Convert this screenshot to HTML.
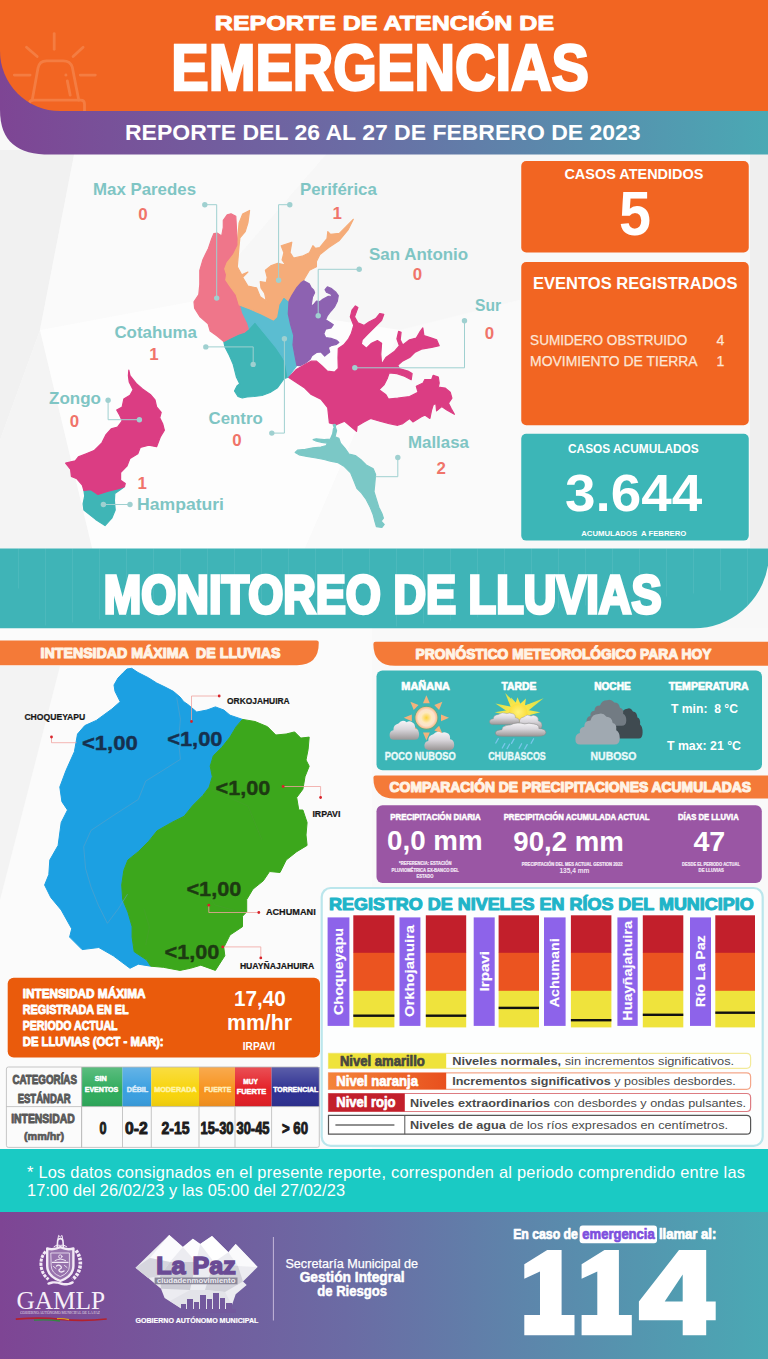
<!DOCTYPE html>
<html lang="es">
<head>
<meta charset="utf-8">
<title>Reporte de Atención de Emergencias</title>
<style>
html,body{margin:0;padding:0;background:#f8f8f8;}
body{width:768px;height:1359px;overflow:hidden;font-family:"Liberation Sans",sans-serif;}
svg text{white-space:pre;}
</style>
</head>
<body>
<svg width="768" height="1359" viewBox="0 0 768 1359" style="display:block">
<defs>
<linearGradient id="gpt" x1="0" y1="0" x2="1" y2="0">
<stop offset="0" stop-color="#7e4594"/><stop offset="0.45" stop-color="#6b6ba4"/><stop offset="1" stop-color="#4aa9b4"/></linearGradient>
<clipPath id="hclip"><path d="M0 0 L768 0 L768 111 L60 111 A60 60 0 0 1 0 51 Z"/></clipPath>
<linearGradient id="gsh" x1="0" y1="0" x2="0" y2="1"><stop offset="0" stop-color="#fff" stop-opacity="0.22"/><stop offset="0.6" stop-color="#fff" stop-opacity="0"/><stop offset="1" stop-color="#000" stop-opacity="0.06"/></linearGradient>
<linearGradient id="gcl" x1="0" y1="0" x2="0" y2="1">
<stop offset="0" stop-color="#f6f4f7"/><stop offset="0.45" stop-color="#d9d6db"/><stop offset="1" stop-color="#9a9696"/></linearGradient>
<radialGradient id="gsun" cx="0.5" cy="0.5" r="0.5">
<stop offset="0" stop-color="#fbd23a"/><stop offset="0.45" stop-color="#fde9c0"/><stop offset="0.7" stop-color="#fbe3cc"/><stop offset="1" stop-color="#f7b27a"/></radialGradient>
<radialGradient id="gsun2" cx="0.5" cy="0.45" r="0.6">
<stop offset="0" stop-color="#fff27a"/><stop offset="1" stop-color="#fbd92c"/></radialGradient>
<radialGradient id="gray" gradientUnits="userSpaceOnUse" cx="518.2" cy="713" r="28">
<stop offset="0.3" stop-color="#fbe64a"/><stop offset="1" stop-color="#cfe24f"/></radialGradient>
<linearGradient id="gor" x1="0" y1="0" x2="1" y2="0"><stop offset="0" stop-color="#f4843a"/><stop offset="1" stop-color="#e8501e"/></linearGradient>
</defs>
<rect x="0.00" y="0.00" width="768.00" height="1359.00" rx="0" fill="#f8f8f8" />
<polygon points="0.0,150.0 75.0,150.0 40.0,330.0 0.0,440.0" fill="#f1f1f1" />
<polygon points="0.0,440.0 40.0,330.0 95.0,560.0 0.0,560.0" fill="#f4f4f4" />
<polygon points="75.0,150.0 330.0,150.0 200.0,300.0 40.0,330.0" fill="#fafafa" />
<polygon points="330.0,150.0 520.0,150.0 520.0,300.0 400.0,330.0 200.0,300.0" fill="#f7f7f7" />
<polygon points="40.0,330.0 200.0,300.0 400.0,330.0 300.0,560.0 95.0,560.0" fill="#fdfdfd" />
<polygon points="400.0,330.0 520.0,300.0 520.0,560.0 300.0,560.0" fill="#fafafa" />
<polygon points="750.0,154.0 768.0,154.0 768.0,548.0 750.0,548.0" fill="#efefef" />
<polygon points="0.0,628.0 768.0,628.0 768.0,1149.0 0.0,1149.0" fill="#f9f9f9" />
<polygon points="0.0,628.0 372.0,628.0 372.0,1149.0 0.0,1149.0" fill="#fbfbfb" />
<polygon points="0.0,666.0 60.0,666.0 0.0,900.0" fill="#f3f3f3" />
<path d="M0 40 L768 40 L768 154.6 L50 154.6 C18 154.6 0 142 0 110 Z" fill="url(#gpt)"/>
<path id="hdr" d="M0 0 L768 0 L768 111 L60 111 A60 60 0 0 1 0 51 Z" fill="#f26522"/>
<g clip-path="url(#hclip)"><g fill="none" stroke="#f47d42" stroke-width="2.8" stroke-linecap="round" stroke-linejoin="round"><path d="M32.2 100.2 L38 68 Q39.4 60.8 46.5 60.8 L63 60.8 Q70.4 60.8 72.3 67.2 L78.8 100.2"/><path d="M29.4 114 L29.4 104 Q29.4 100.2 33.2 100.2 L80.7 100.2 Q84.5 100.2 84.5 104 L84.5 114"/><path d="M67.3 80.9 L70.2 95.2"/><path d="M65.9 75 L65.9 75.2"/><path d="M54.2 33.6 L54.2 49.3"/><path d="M26.5 47.2 L37.2 56.5"/><path d="M83.1 47.2 L73.1 56.5"/><path d="M14.3 75.1 L30.1 75.1"/><path d="M80.2 75.1 L95.3 75.1"/></g></g>
<text x="214.85" y="29.85" font-family="Liberation Sans, sans-serif" font-size="20.06" font-weight="bold" fill="#fff" stroke="#fff" stroke-width="0.9" stroke-linejoin="round" stroke-miterlimit="2.5" textLength="339.30" lengthAdjust="spacingAndGlyphs" >REPORTE DE ATENCIÓN DE</text>
<text x="171.30" y="90.00" font-family="Liberation Sans, sans-serif" font-size="65.26" font-weight="bold" fill="#fff" stroke="#fff" stroke-width="2.6" stroke-linejoin="miter" stroke-miterlimit="2.5" textLength="417.60" lengthAdjust="spacingAndGlyphs" >EMERGENCIAS</text>
<text x="125.00" y="139.70" font-family="Liberation Sans, sans-serif" font-size="21.37" font-weight="bold" fill="#fff" textLength="515.60" lengthAdjust="spacingAndGlyphs" >REPORTE DEL 26 AL 27 DE FEBRERO DE 2023</text>
<polygon points="223.8,341.5 230.0,338.3 238.3,334.2 244.6,332.1 248.2,329.0 255.0,321.7 262.5,330.9 270.3,340.3 276.6,348.1 282.8,357.5 285.3,362.0 288.0,377.3 284.0,378.6 277.5,387.7 270.0,392.5 262.0,395.5 254.0,396.5 247.0,397.0 242.3,398.0 238.0,396.5 234.5,391.0 237.0,386.0 239.7,383.8 236.5,377.3 233.2,364.3 229.3,355.2 225.0,347.0" fill="#3fb5b6" stroke="#3fb5b6" stroke-width="1.2" stroke-linejoin="round"/>
<polygon points="239.4,305.0 250.0,309.0 261.0,313.8 273.4,320.0 276.6,316.9 278.9,304.4 283.6,296.6 289.0,301.2 288.3,313.8 290.6,324.7 293.8,335.6 293.0,345.0 295.3,357.5 296.9,365.3 293.0,370.5 288.0,377.3 285.3,362.0 282.8,357.5 276.6,348.1 270.3,340.3 262.5,330.9 255.0,321.7 248.2,329.0 246.7,323.8 241.5,313.3" fill="#5bbdd1" stroke="#5bbdd1" stroke-width="1.2" stroke-linejoin="round"/>
<polygon points="227.2,214.8 231.0,213.8 235.8,216.4 236.6,231.2 238.1,245.3 233.4,254.7 227.2,262.5 224.8,268.8 226.6,274.7 225.8,280.0 230.0,286.2 236.2,294.6 239.4,305.0 241.5,313.3 246.7,323.8 248.2,329.0 244.6,332.1 238.3,334.2 230.0,338.3 223.8,341.5 217.5,336.2 210.2,331.0 208.1,323.8 199.8,316.5 194.6,308.1 194.0,301.9 198.8,294.6 199.8,284.4 199.8,270.3 203.0,259.4 208.4,248.4 211.6,239.0 213.9,233.6 217.5,233.2 221.7,235.9 223.3,227.3 223.3,220.3" fill="#ef768a" stroke="#ef768a" stroke-width="1.2" stroke-linejoin="round"/>
<polygon points="249.6,210.5 247.9,222.9 245.2,231.6 239.9,237.8 239.1,245.7 238.2,256.2 237.3,266.8 241.7,274.7 247.9,272.1 242.6,277.3 247.9,286.1 256.6,287.9 260.2,296.7 266.3,301.1 264.6,293.2 261.0,287.9 260.2,281.7 266.3,282.6 267.2,277.3 265.4,270.3 270.7,265.9 277.7,263.3 285.6,265.0 282.1,259.8 283.9,252.7 281.2,245.7 291.8,242.2 290.0,252.7 293.6,258.0 302.3,256.2 309.4,252.7 312.9,245.7 315.5,248.3 319.9,247.5 327.0,238.7 327.8,231.6 330.5,234.3 339.3,233.4 346.3,226.4 353.3,219.3 348.0,229.9 339.3,240.4 328.7,247.5 319.9,254.5 316.4,261.5 316.4,266.8 309.4,270.3 304.1,279.1 303.7,280.9 301.0,282.8 296.4,288.2 291.9,295.5 289.0,301.2 283.6,296.6 278.9,304.4 276.6,316.9 273.4,320.0 261.0,313.8 250.0,309.0 239.4,305.0 236.2,294.6 230.0,286.2 225.8,280.0 226.6,274.7 224.8,268.8 227.2,262.5 233.4,254.7 238.1,245.3 238.2,233.4 239.1,222.9 242.6,214.1" fill="#f5ac79" stroke="#f5ac79" stroke-width="1.2" stroke-linejoin="round"/>
<polygon points="303.7,280.9 309.2,283.7 311.0,287.3 313.7,290.1 314.6,292.8 312.4,297.3 311.0,306.5 313.7,304.6 316.5,301.0 320.1,301.5 322.8,299.2 328.3,296.4 332.0,296.0 331.0,294.2 326.5,292.3 325.1,289.6 327.4,286.9 331.0,288.2 335.6,291.9 338.3,295.5 337.4,301.0 334.7,306.5 331.0,311.0 327.4,315.6 325.6,319.7 329.2,322.0 333.3,324.7 331.0,327.9 325.6,329.2 323.8,333.8 325.6,337.5 331.0,338.4 336.5,340.2 338.8,342.5 336.5,344.3 331.0,345.7 328.3,347.5 329.7,352.0 327.4,353.9 324.7,356.1 321.0,352.0 316.5,352.5 311.9,355.7 310.1,359.3 305.5,363.0 300.1,365.7 296.9,365.3 295.3,357.5 293.0,345.0 293.8,335.6 290.6,324.7 288.3,313.8 289.0,301.2 291.9,295.5 296.4,288.2 301.0,282.8" fill="#8d62b1" stroke="#8d62b1" stroke-width="1.2" stroke-linejoin="round"/>
<polygon points="288.8,377.5 296.4,369.4 305.0,364.5 311.0,361.2 316.5,361.2 322.0,366.0 327.4,371.2 334.7,372.0 338.3,368.5 338.0,358.0 338.3,348.4 343.8,344.8 348.6,338.9 351.2,333.9 353.7,325.4 350.3,316.9 352.0,310.2 355.4,305.9 357.9,307.6 354.5,316.9 357.9,322.8 363.9,325.4 368.9,322.0 375.7,318.6 379.9,313.5 383.8,314.4 381.6,320.3 374.0,327.9 367.2,334.7 362.2,339.8 361.3,344.0 366.4,348.2 371.5,343.2 377.4,340.6 381.6,343.2 380.8,354.2 381.6,364.3 385.9,357.5 394.3,351.6 399.4,345.7 396.9,338.9 398.6,331.3 401.1,332.2 400.2,339.8 402.8,344.9 409.6,339.8 416.3,338.1 419.7,332.2 422.8,327.9 423.9,335.5 431.6,338.1 436.6,339.8 439.2,345.7 431.6,347.4 421.4,349.1 414.6,352.5 409.6,357.5 402.8,360.9 397.7,365.2 399.4,368.6 407.9,371.1 412.1,373.6 411.2,379.6 404.5,376.2 396.9,373.6 389.2,372.8 387.5,377.9 384.2,384.6 379.1,389.7 385.9,394.8 388.4,399.0 397.7,398.2 409.6,396.5 418.0,392.2 416.3,386.3 423.1,383.0 424.8,379.6 431.6,379.6 433.2,375.3 438.3,377.0 439.2,383.0 438.3,387.2 445.1,388.0 450.2,392.2 451.9,398.2 448.5,403.2 451.0,408.3 454.4,414.3 446.8,410.0 441.7,406.6 436.6,410.9 435.8,403.2 433.2,404.9 431.6,410.0 429.9,418.5 424.8,415.1 421.4,416.8 412.9,421.9 409.6,418.5 402.8,423.6 397.7,425.3 389.2,423.6 379.1,421.0 370.6,418.5 363.9,421.9 357.1,426.1 356.5,431.4 344.6,421.2 336.2,424.6 329.4,422.9 327.7,407.7 320.9,399.2 310.8,394.2 304.0,387.4" fill="#db3d83" stroke="#db3d83" stroke-width="1.2" stroke-linejoin="round"/>
<polygon points="335.0,425.9 336.6,430.6 335.0,436.9 338.9,438.4 340.5,443.1 345.2,448.6 349.0,454.0 355.3,455.6 361.6,460.3 366.2,465.0 373.3,468.9 375.6,474.4 374.8,483.8 374.0,491.6 376.4,499.4 378.8,507.2 381.9,513.4 383.4,518.1 381.1,521.2 384.2,524.4 381.9,527.5 376.4,526.7 374.8,521.2 373.3,515.0 370.2,507.2 366.2,499.4 361.6,493.1 356.9,488.4 353.8,480.6 350.6,472.8 344.4,466.6 338.1,462.7 330.3,461.1 324.1,459.5 316.2,458.0 306.9,456.4 299.1,454.8 295.2,452.5 297.5,450.2 305.3,449.4 313.1,447.8 320.9,447.0 326.4,445.5 327.2,443.1 321.7,442.3 315.5,440.8 313.1,439.7 316.2,438.8 324.1,439.7 330.3,439.2 332.7,433.8 333.4,429.1" fill="#7bc8c6" stroke="#7bc8c6" stroke-width="1.2" stroke-linejoin="round"/>
<circle cx="334.6" cy="425.6" r="1.8" fill="#7bc8c6"/>
<polygon points="83.9,490.5 90.9,489.7 98.0,494.4 108.1,491.2 117.5,488.9 123.8,487.3 114.8,493.5 114.4,500.6 115.2,510.0 112.0,517.8 105.0,525.6 95.6,519.4 83.9,510.0 83.1,503.8 84.7,495.9" fill="#3fb5b6" stroke="#3fb5b6" stroke-width="1.2" stroke-linejoin="round"/>
<polygon points="128.8,370.2 130.0,375.6 136.2,383.4 142.5,388.9 150.3,394.4 155.0,399.8 156.6,406.9 161.2,412.3 159.7,417.8 162.8,424.1 164.4,430.3 160.5,436.6 156.6,446.7 148.8,445.2 140.2,447.5 137.8,453.8 130.0,458.4 126.9,466.2 120.6,472.5 120.6,480.3 125.3,483.4 124.5,486.6 117.5,488.9 108.1,491.2 98.0,494.4 90.9,489.7 83.9,490.5 82.3,485.0 76.9,478.8 71.4,476.4 70.6,469.4 65.6,463.1 75.3,460.8 78.4,456.9 86.2,453.8 94.1,450.6 101.9,442.8 105.8,435.0 111.2,428.8 117.5,427.2 122.2,420.9 119.8,415.5 116.7,410.0 122.2,406.9 123.8,399.1 130.0,395.2 133.1,389.7 129.2,381.9 128.4,375.6" fill="#db3d83" stroke="#db3d83" stroke-width="1.2" stroke-linejoin="round"/>
<path d="M204.8 204.7 L216.7 204.7 L216.7 298.1" fill="none" stroke="#9fd0d0" stroke-width="1"/>
<circle cx="204.8" cy="204.7" r="2.7" fill="#9fd0d0"/>
<circle cx="216.7" cy="298.1" r="2.7" fill="#9fd0d0"/>
<path d="M289.8 204.7 L278.6 204.7 L278.6 280.2" fill="none" stroke="#9fd0d0" stroke-width="1"/>
<circle cx="289.8" cy="204.7" r="2.7" fill="#9fd0d0"/>
<circle cx="278.6" cy="280.2" r="2.7" fill="#9fd0d0"/>
<path d="M359.2 269.3 L318.2 269.3 L318.2 315.7" fill="none" stroke="#9fd0d0" stroke-width="1"/>
<circle cx="359.2" cy="269.3" r="2.7" fill="#9fd0d0"/>
<circle cx="318.2" cy="315.7" r="2.7" fill="#9fd0d0"/>
<path d="M464.5 320.8 L464.5 367.8 L354.8 367.8" fill="none" stroke="#9fd0d0" stroke-width="1"/>
<circle cx="464.5" cy="320.8" r="2.7" fill="#9fd0d0"/>
<circle cx="354.8" cy="367.8" r="2.7" fill="#9fd0d0"/>
<path d="M205.8 346.9 L253.2 346.9 L253.2 364.4" fill="none" stroke="#9fd0d0" stroke-width="1"/>
<circle cx="205.8" cy="346.9" r="2.7" fill="#9fd0d0"/>
<circle cx="253.2" cy="364.4" r="2.7" fill="#9fd0d0"/>
<path d="M271.8 433.1 L284.4 433.1 L284.4 338.8" fill="none" stroke="#9fd0d0" stroke-width="1"/>
<circle cx="271.8" cy="433.1" r="2.7" fill="#9fd0d0"/>
<circle cx="284.4" cy="338.8" r="2.7" fill="#9fd0d0"/>
<path d="M397.8 457.5 L397.8 476.7 L375.6 476.7" fill="none" stroke="#9fd0d0" stroke-width="1"/>
<circle cx="397.8" cy="457.5" r="2.7" fill="#9fd0d0"/>
<path d="M108.1 400.3 L108.1 419.7 L139.4 419.7" fill="none" stroke="#9fd0d0" stroke-width="1"/>
<circle cx="108.1" cy="400.3" r="2.7" fill="#9fd0d0"/>
<circle cx="139.4" cy="419.7" r="2.7" fill="#9fd0d0"/>
<path d="M103.4 504.5 L130.0 504.5" fill="none" stroke="#9fd0d0" stroke-width="1"/>
<circle cx="103.4" cy="504.5" r="2.7" fill="#9fd0d0"/>
<circle cx="130.0" cy="504.5" r="2.7" fill="#9fd0d0"/>
<text x="93.00" y="195.00" font-family="Liberation Sans, sans-serif" font-size="16.86" font-weight="bold" fill="#7fc5c4" textLength="103.00" lengthAdjust="spacingAndGlyphs" >Max Paredes</text>
<text x="143.00" y="219.50" font-family="Liberation Sans, sans-serif" font-size="16.86" font-weight="bold" fill="#f0746a" text-anchor="middle" >0</text>
<text x="300.00" y="194.90" font-family="Liberation Sans, sans-serif" font-size="16.86" font-weight="bold" fill="#7fc5c4" textLength="76.80" lengthAdjust="spacingAndGlyphs" >Periférica</text>
<text x="337.20" y="219.20" font-family="Liberation Sans, sans-serif" font-size="16.86" font-weight="bold" fill="#f0746a" text-anchor="middle" >1</text>
<text x="369.00" y="259.90" font-family="Liberation Sans, sans-serif" font-size="16.86" font-weight="bold" fill="#7fc5c4" textLength="99.20" lengthAdjust="spacingAndGlyphs" >San Antonio</text>
<text x="417.40" y="280.20" font-family="Liberation Sans, sans-serif" font-size="16.86" font-weight="bold" fill="#f0746a" text-anchor="middle" >0</text>
<text x="475.00" y="311.30" font-family="Liberation Sans, sans-serif" font-size="16.86" font-weight="bold" fill="#7fc5c4" textLength="26.00" lengthAdjust="spacingAndGlyphs" >Sur</text>
<text x="489.50" y="339.40" font-family="Liberation Sans, sans-serif" font-size="16.86" font-weight="bold" fill="#f0746a" text-anchor="middle" >0</text>
<text x="114.40" y="337.70" font-family="Liberation Sans, sans-serif" font-size="16.86" font-weight="bold" fill="#7fc5c4" textLength="82.60" lengthAdjust="spacingAndGlyphs" >Cotahuma</text>
<text x="154.00" y="359.50" font-family="Liberation Sans, sans-serif" font-size="16.86" font-weight="bold" fill="#f0746a" text-anchor="middle" >1</text>
<text x="208.50" y="423.60" font-family="Liberation Sans, sans-serif" font-size="16.86" font-weight="bold" fill="#7fc5c4" textLength="54.20" lengthAdjust="spacingAndGlyphs" >Centro</text>
<text x="237.00" y="445.90" font-family="Liberation Sans, sans-serif" font-size="16.86" font-weight="bold" fill="#f0746a" text-anchor="middle" >0</text>
<text x="408.00" y="448.30" font-family="Liberation Sans, sans-serif" font-size="16.86" font-weight="bold" fill="#7fc5c4" textLength="60.90" lengthAdjust="spacingAndGlyphs" >Mallasa</text>
<text x="441.10" y="474.40" font-family="Liberation Sans, sans-serif" font-size="16.86" font-weight="bold" fill="#f0746a" text-anchor="middle" >2</text>
<text x="49.00" y="404.30" font-family="Liberation Sans, sans-serif" font-size="16.86" font-weight="bold" fill="#7fc5c4" textLength="51.90" lengthAdjust="spacingAndGlyphs" >Zongo</text>
<text x="74.50" y="427.00" font-family="Liberation Sans, sans-serif" font-size="16.86" font-weight="bold" fill="#f0746a" text-anchor="middle" >0</text>
<text x="142.20" y="489.00" font-family="Liberation Sans, sans-serif" font-size="16.86" font-weight="bold" fill="#f0746a" text-anchor="middle" >1</text>
<text x="137.00" y="510.30" font-family="Liberation Sans, sans-serif" font-size="16.86" font-weight="bold" fill="#7fc5c4" textLength="87.00" lengthAdjust="spacingAndGlyphs" >Hampaturi</text>
<rect x="521.25" y="161.00" width="227.50" height="91.50" rx="5" fill="#f26522" />
<text x="564.40" y="178.75" font-family="Liberation Sans, sans-serif" font-size="15.41" font-weight="bold" fill="#fff" textLength="139.00" lengthAdjust="spacingAndGlyphs" >CASOS ATENDIDOS</text>
<text x="619.00" y="235.00" font-family="Liberation Sans, sans-serif" font-size="62.21" font-weight="bold" fill="#fff" textLength="32.00" lengthAdjust="spacingAndGlyphs" >5</text>
<rect x="521.25" y="262.00" width="227.50" height="163.30" rx="5" fill="#f26522" />
<text x="533.00" y="288.75" font-family="Liberation Sans, sans-serif" font-size="17.30" font-weight="bold" fill="#fff" textLength="204.50" lengthAdjust="spacingAndGlyphs" >EVENTOS REGISTRADOS</text>
<text x="530.12" y="345.48" font-family="Liberation Sans, sans-serif" font-size="14.17" font-weight="normal" fill="#fde6d6" stroke="#fde6d6" stroke-width="0.25" stroke-linejoin="round" stroke-miterlimit="2.5" textLength="157.25" lengthAdjust="spacingAndGlyphs" >SUMIDERO OBSTRUIDO</text>
<text x="720.33" y="345.48" font-family="Liberation Sans, sans-serif" font-size="14.17" font-weight="normal" fill="#fde6d6" stroke="#fde6d6" stroke-width="0.25" stroke-linejoin="round" stroke-miterlimit="2.5" text-anchor="middle" >4</text>
<text x="530.12" y="366.48" font-family="Liberation Sans, sans-serif" font-size="14.17" font-weight="normal" fill="#fde6d6" stroke="#fde6d6" stroke-width="0.25" stroke-linejoin="round" stroke-miterlimit="2.5" textLength="167.55" lengthAdjust="spacingAndGlyphs" >MOVIMIENTO DE TIERRA</text>
<text x="720.33" y="366.48" font-family="Liberation Sans, sans-serif" font-size="14.17" font-weight="normal" fill="#fde6d6" stroke="#fde6d6" stroke-width="0.25" stroke-linejoin="round" stroke-miterlimit="2.5" text-anchor="middle" >1</text>
<rect x="521.25" y="433.75" width="227.50" height="106.85" rx="5" fill="#3cb6b7" />
<text x="568.00" y="452.50" font-family="Liberation Sans, sans-serif" font-size="13.66" font-weight="bold" fill="#fff" textLength="130.75" lengthAdjust="spacingAndGlyphs" >CASOS ACUMULADOS</text>
<text x="565.00" y="511.00" font-family="Liberation Sans, sans-serif" font-size="52.33" font-weight="bold" fill="#fff" textLength="137.20" lengthAdjust="spacingAndGlyphs" >3.644</text>
<text x="581.25" y="536.00" font-family="Liberation Sans, sans-serif" font-size="7.85" font-weight="bold" fill="#fff" textLength="105.00" lengthAdjust="spacingAndGlyphs" >ACUMULADOS  A FEBRERO</text>
<path d="M0 548.5 L768 548.5 L768 565.5 A75 75 0 0 1 694 628.3 L0 628.3 Z" fill="#3fb4b7"/>
<rect x="18" y="548.5" width="1" height="40" fill="#fff" opacity="0.07"/>
<rect x="45" y="548.5" width="1" height="77" fill="#fff" opacity="0.07"/>
<rect x="72" y="548.5" width="1" height="74" fill="#fff" opacity="0.07"/>
<rect x="99" y="548.5" width="1" height="71" fill="#fff" opacity="0.07"/>
<rect x="126" y="548.5" width="1" height="68" fill="#fff" opacity="0.07"/>
<rect x="153" y="548.5" width="1" height="65" fill="#fff" opacity="0.07"/>
<rect x="180" y="548.5" width="1" height="62" fill="#fff" opacity="0.07"/>
<rect x="207" y="548.5" width="1" height="59" fill="#fff" opacity="0.07"/>
<rect x="234" y="548.5" width="1" height="56" fill="#fff" opacity="0.07"/>
<rect x="261" y="548.5" width="1" height="53" fill="#fff" opacity="0.07"/>
<rect x="288" y="548.5" width="1" height="50" fill="#fff" opacity="0.07"/>
<rect x="315" y="548.5" width="1" height="47" fill="#fff" opacity="0.07"/>
<rect x="342" y="548.5" width="1" height="44" fill="#fff" opacity="0.07"/>
<rect x="369" y="548.5" width="1" height="41" fill="#fff" opacity="0.07"/>
<rect x="396" y="548.5" width="1" height="78" fill="#fff" opacity="0.07"/>
<rect x="423" y="548.5" width="1" height="75" fill="#fff" opacity="0.07"/>
<rect x="450" y="548.5" width="1" height="72" fill="#fff" opacity="0.07"/>
<rect x="477" y="548.5" width="1" height="69" fill="#fff" opacity="0.07"/>
<rect x="504" y="548.5" width="1" height="66" fill="#fff" opacity="0.07"/>
<rect x="531" y="548.5" width="1" height="63" fill="#fff" opacity="0.07"/>
<rect x="558" y="548.5" width="1" height="60" fill="#fff" opacity="0.07"/>
<rect x="585" y="548.5" width="1" height="57" fill="#fff" opacity="0.07"/>
<rect x="612" y="548.5" width="1" height="54" fill="#fff" opacity="0.07"/>
<rect x="639" y="548.5" width="1" height="51" fill="#fff" opacity="0.07"/>
<rect x="666" y="548.5" width="1" height="48" fill="#fff" opacity="0.07"/>
<rect x="693" y="548.5" width="1" height="45" fill="#fff" opacity="0.07"/>
<rect x="720" y="548.5" width="1" height="42" fill="#fff" opacity="0.07"/>
<rect x="747" y="548.5" width="1" height="79" fill="#fff" opacity="0.07"/>
<text x="103.70" y="613.10" font-family="Liberation Sans, sans-serif" font-size="53.20" font-weight="bold" fill="#fff" stroke="#fff" stroke-width="3.4" stroke-linejoin="miter" stroke-miterlimit="2.5" textLength="557.80" lengthAdjust="spacingAndGlyphs" >MONITOREO DE LLUVIAS</text>
<path d="M0 640.6 L316.6 640.6 Q318.8 640.6 318.8 642.8 Q318.8 665.2 297 665.2 L0 665.2 Z" fill="#f47a38"/>
<text x="40.60" y="658.10" font-family="Liberation Sans, sans-serif" font-size="15.41" font-weight="bold" fill="#fff3e6" stroke="#fff3e6" stroke-width="1.2" stroke-linejoin="round" stroke-miterlimit="2.5" textLength="239.80" lengthAdjust="spacingAndGlyphs" >INTENSIDAD MÁXIMA  DE LLUVIAS</text>
<path d="M768 641.8 L375.6 641.8 Q373.4 641.8 373.4 644 Q373.4 665.8 395 665.8 L768 665.8 Z" fill="#f47a38"/>
<text x="415.60" y="659.40" font-family="Liberation Sans, sans-serif" font-size="15.41" font-weight="bold" fill="#fff3e6" stroke="#fff3e6" stroke-width="1.2" stroke-linejoin="round" stroke-miterlimit="2.5" textLength="295.80" lengthAdjust="spacingAndGlyphs" >PRONÓSTICO METEOROLÓGICO PARA HOY</text>
<path d="M768 775.6 L375.6 775.6 Q373.4 775.6 373.4 777.8 Q373.4 798.6 394.5 798.6 L768 798.6 Z" fill="#f47a38"/>
<text x="389.60" y="792.40" font-family="Liberation Sans, sans-serif" font-size="15.41" font-weight="bold" fill="#fff3e6" stroke="#fff3e6" stroke-width="1.2" stroke-linejoin="round" stroke-miterlimit="2.5" textLength="361.40" lengthAdjust="spacingAndGlyphs" >COMPARACIÓN DE PRECIPITACIONES ACUMULADAS</text>
<polygon points="131.7,668.3 138.0,672.5 148.3,677.7 156.7,683.0 165.0,687.0 173.3,691.3 180.0,697.0 183.8,701.7 188.3,704.8 196.7,712.0 207.0,710.0 215.4,706.9 223.8,710.0 230.0,715.2 242.5,719.4 236.2,726.7 230.0,737.1 221.7,747.5 213.3,755.8 210.2,766.2 212.3,776.7 209.2,787.1 202.9,795.4 192.5,805.8 184.2,816.2 171.7,822.5 157.1,830.8 148.8,841.2 138.3,851.7 127.9,860.0 123.8,870.4 121.7,885.0 122.7,899.6 127.9,912.1 132.1,926.7 132.1,937.1 134.2,951.7 146.7,960.0 150.8,966.2 138.3,964.2 130.0,968.3 113.3,955.8 98.8,947.5 82.1,949.6 69.6,937.1 71.7,928.8 61.2,910.0 50.8,897.5 44.6,885.0 48.8,874.6 49.8,860.0 58.1,845.4 61.2,822.5 67.5,810.0 61.9,801.7 59.8,787.0 66.0,770.4 74.4,751.7 77.5,734.0 84.8,725.6 96.3,720.4 111.9,709.0 120.2,701.7 115.0,691.3 114.0,685.0 118.0,678.0 123.3,672.5 127.0,669.0" fill="#1ca0e2" stroke="#1ca0e2" stroke-width="1" stroke-linejoin="round"/>
<polygon points="242.5,719.4 236.2,726.7 230.0,737.1 221.7,747.5 213.3,755.8 210.2,766.2 212.3,776.7 209.2,787.1 202.9,795.4 192.5,805.8 184.2,816.2 171.7,822.5 157.1,830.8 148.8,841.2 138.3,851.7 127.9,860.0 123.8,870.4 121.7,885.0 122.7,899.6 127.9,912.1 132.1,926.7 132.1,937.1 134.2,951.7 146.7,960.0 150.8,966.2 163.3,967.3 180.0,970.4 190.4,968.3 200.8,965.2 215.4,970.4 224.8,955.8 223.8,947.5 230.0,935.0 242.5,926.7 242.5,916.2 246.7,912.0 246.7,899.6 252.9,889.2 263.3,880.8 269.6,871.5 280.0,872.5 286.2,860.0 296.7,851.7 307.1,845.4 306.0,835.0 307.1,822.5 302.9,810.0 298.8,810.0 296.7,797.5 302.9,789.2 305.0,776.7 309.2,766.2 306.0,760.0 308.1,749.6 309.2,737.1 300.8,738.1 294.6,731.9 286.2,734.0 275.8,735.0 267.5,726.7 255.0,721.5" fill="#3ca71c" stroke="#3ca71c" stroke-width="1" stroke-linejoin="round"/>
<path d="M176.7 697.3 L180.4 719.2 L178.5 741 L180.4 759.3 L160.3 772 L145.7 781.1 L138.4 799.4 L112.9 815.8 L91 830.4 L83.7 846.8 L85.6 868.6 L91 886.9 L98.3 905.1 L107.4 923.3 L118.4 908.7 L127.5 894.2" fill="none" stroke="#5f9fc6" stroke-width="0.8" stroke-linejoin="round" opacity="0.7"/>
<path d="M143.9 908.7 L149.4 927 L145.7 945.2 M200 880 L215 905 L240 912 M212 790 L248 806 L262 840" fill="none" stroke="#4d9a35" stroke-width="0.7" opacity="0.55"/>
<path d="M51.5 737.0 L51.5 742.7 L76.5 742.7" fill="none" stroke="#f0a3a0" stroke-width="0.8"/>
<circle cx="51.5" cy="737.0" r="1.4" fill="#d8232a"/>
<path d="M219.2 696.0 L191.5 696.0 L191.5 721.5" fill="none" stroke="#f0a3a0" stroke-width="0.8"/>
<circle cx="219.2" cy="696.0" r="1.4" fill="#d8232a"/>
<circle cx="191.5" cy="721.5" r="1.4" fill="#d8232a"/>
<path d="M283.1 786.5 L320.6 786.5 L320.6 797.5" fill="none" stroke="#f0a3a0" stroke-width="0.8"/>
<circle cx="283.1" cy="786.5" r="1.4" fill="#d8232a"/>
<circle cx="320.6" cy="797.5" r="1.4" fill="#d8232a"/>
<path d="M208.8 905.2 L208.8 912.5 L258.8 912.5" fill="none" stroke="#f0a3a0" stroke-width="0.8"/>
<circle cx="208.8" cy="905.2" r="1.4" fill="#d8232a"/>
<circle cx="258.8" cy="912.5" r="1.4" fill="#d8232a"/>
<path d="M222.7 946.9 L260.8 946.9 L260.8 957.9" fill="none" stroke="#f0a3a0" stroke-width="0.8"/>
<circle cx="222.7" cy="946.9" r="1.4" fill="#d8232a"/>
<circle cx="260.8" cy="957.9" r="1.4" fill="#d8232a"/>
<text x="24.40" y="720.30" font-family="Liberation Sans, sans-serif" font-size="8.28" font-weight="bold" fill="#161616" stroke="#161616" stroke-width="0.2" stroke-linejoin="round" stroke-miterlimit="2.5" textLength="60.90" lengthAdjust="spacingAndGlyphs" >CHOQUEYAPU</text>
<text x="227.00" y="704.10" font-family="Liberation Sans, sans-serif" font-size="8.58" font-weight="bold" fill="#161616" stroke="#161616" stroke-width="0.2" stroke-linejoin="round" stroke-miterlimit="2.5" textLength="62.70" lengthAdjust="spacingAndGlyphs" >ORKOJAHUIRA</text>
<text x="312.40" y="816.60" font-family="Liberation Sans, sans-serif" font-size="8.72" font-weight="bold" fill="#161616" stroke="#161616" stroke-width="0.2" stroke-linejoin="round" stroke-miterlimit="2.5" textLength="28.00" lengthAdjust="spacingAndGlyphs" >IRPAVI</text>
<text x="265.90" y="915.10" font-family="Liberation Sans, sans-serif" font-size="8.72" font-weight="bold" fill="#161616" stroke="#161616" stroke-width="0.2" stroke-linejoin="round" stroke-miterlimit="2.5" textLength="49.80" lengthAdjust="spacingAndGlyphs" >ACHUMANI</text>
<text x="239.90" y="968.65" font-family="Liberation Sans, sans-serif" font-size="8.58" font-weight="bold" fill="#161616" stroke="#161616" stroke-width="0.2" stroke-linejoin="round" stroke-miterlimit="2.5" textLength="74.40" lengthAdjust="spacingAndGlyphs" >HUAYÑAJAHUIRA</text>
<text x="81.90" y="750.40" font-family="Liberation Sans, sans-serif" font-size="20.64" font-weight="bold" fill="#16304e" stroke="#16304e" stroke-width="0.4" stroke-linejoin="round" stroke-miterlimit="2.5" textLength="55.80" lengthAdjust="spacingAndGlyphs" >&lt;1,00</text>
<text x="167.20" y="746.30" font-family="Liberation Sans, sans-serif" font-size="20.64" font-weight="bold" fill="#16304e" stroke="#16304e" stroke-width="0.4" stroke-linejoin="round" stroke-miterlimit="2.5" textLength="55.30" lengthAdjust="spacingAndGlyphs" >&lt;1,00</text>
<text x="215.60" y="794.80" font-family="Liberation Sans, sans-serif" font-size="20.93" font-weight="bold" fill="#1d3a12" stroke="#1d3a12" stroke-width="0.4" stroke-linejoin="round" stroke-miterlimit="2.5" textLength="54.80" lengthAdjust="spacingAndGlyphs" >&lt;1,00</text>
<text x="186.45" y="896.30" font-family="Liberation Sans, sans-serif" font-size="20.64" font-weight="bold" fill="#1d3a12" stroke="#1d3a12" stroke-width="0.4" stroke-linejoin="round" stroke-miterlimit="2.5" textLength="54.85" lengthAdjust="spacingAndGlyphs" >&lt;1,00</text>
<text x="164.50" y="959.40" font-family="Liberation Sans, sans-serif" font-size="20.35" font-weight="bold" fill="#1d3a12" stroke="#1d3a12" stroke-width="0.4" stroke-linejoin="round" stroke-miterlimit="2.5" textLength="54.90" lengthAdjust="spacingAndGlyphs" >&lt;1,00</text>
<rect x="7.70" y="977.80" width="312.30" height="79.60" rx="6" fill="#ea5b0c" />
<text x="22.75" y="997.55" font-family="Liberation Sans, sans-serif" font-size="12.50" font-weight="bold" fill="#fff" stroke="#fff" stroke-width="0.9" stroke-linejoin="round" stroke-miterlimit="2.5" textLength="122.80" lengthAdjust="spacingAndGlyphs" >INTENSIDAD MÁXIMA</text>
<text x="22.75" y="1013.95" font-family="Liberation Sans, sans-serif" font-size="12.50" font-weight="bold" fill="#fff" stroke="#fff" stroke-width="0.9" stroke-linejoin="round" stroke-miterlimit="2.5" textLength="105.80" lengthAdjust="spacingAndGlyphs" >REGISTRADA EN EL</text>
<text x="22.75" y="1029.85" font-family="Liberation Sans, sans-serif" font-size="12.50" font-weight="bold" fill="#fff" stroke="#fff" stroke-width="0.9" stroke-linejoin="round" stroke-miterlimit="2.5" textLength="94.80" lengthAdjust="spacingAndGlyphs" >PERIODO ACTUAL</text>
<text x="22.75" y="1046.15" font-family="Liberation Sans, sans-serif" font-size="12.50" font-weight="bold" fill="#fff" stroke="#fff" stroke-width="0.9" stroke-linejoin="round" stroke-miterlimit="2.5" textLength="140.80" lengthAdjust="spacingAndGlyphs" >DE LLUVIAS (OCT - MAR):</text>
<text x="234.00" y="1005.80" font-family="Liberation Sans, sans-serif" font-size="21.80" font-weight="bold" fill="#fff" textLength="51.80" lengthAdjust="spacingAndGlyphs" >17,40</text>
<text x="227.00" y="1029.50" font-family="Liberation Sans, sans-serif" font-size="21.80" font-weight="bold" fill="#fff" textLength="65.00" lengthAdjust="spacingAndGlyphs" >mm/hr</text>
<text x="242.80" y="1049.70" font-family="Liberation Sans, sans-serif" font-size="10.61" font-weight="bold" fill="#fff" textLength="32.20" lengthAdjust="spacingAndGlyphs" >IRPAVI</text>
<rect x="6.40" y="1067.00" width="312.90" height="80.40" rx="0" fill="#fbfbfb" />
<rect x="81.60" y="1067.00" width="40.90" height="39.60" rx="0" fill="#2fab5c" />
<rect x="81.60" y="1067.00" width="40.90" height="39.60" rx="0" fill="url(#gsh)" />
<rect x="122.50" y="1067.00" width="28.80" height="39.60" rx="0" fill="#3a9fe0" />
<rect x="122.50" y="1067.00" width="28.80" height="39.60" rx="0" fill="url(#gsh)" />
<rect x="151.30" y="1067.00" width="47.70" height="39.60" rx="0" fill="#f8d40c" />
<rect x="151.30" y="1067.00" width="47.70" height="39.60" rx="0" fill="url(#gsh)" />
<rect x="199.00" y="1067.00" width="36.00" height="39.60" rx="0" fill="#f7931e" />
<rect x="199.00" y="1067.00" width="36.00" height="39.60" rx="0" fill="url(#gsh)" />
<rect x="235.00" y="1067.00" width="36.60" height="39.60" rx="0" fill="#e41f26" />
<rect x="235.00" y="1067.00" width="36.60" height="39.60" rx="0" fill="url(#gsh)" />
<rect x="271.60" y="1067.00" width="47.70" height="39.60" rx="0" fill="#2e3192" />
<rect x="271.60" y="1067.00" width="47.70" height="39.60" rx="0" fill="url(#gsh)" />
<g stroke="#b9b9b9" stroke-width="0.8" fill="none"><rect x="6.4" y="1067" width="312.90000000000003" height="80.40000000000009" rx="2"/><path d="M6.4 1106.6 L319.3 1106.6"/><path d="M81.6 1067 L81.6 1147.4"/><path d="M122.5 1106.6 L122.5 1147.4"/><path d="M151.3 1106.6 L151.3 1147.4"/><path d="M199 1106.6 L199 1147.4"/><path d="M235 1106.6 L235 1147.4"/><path d="M271.6 1106.6 L271.6 1147.4"/></g>
<path d="M81.6 1067 L81.6 1147.4" stroke="#b9b9b9" stroke-width="0.8"/>
<text x="12.45" y="1083.75" font-family="Liberation Sans, sans-serif" font-size="12.65" font-weight="bold" fill="#585858" stroke="#585858" stroke-width="0.9" stroke-linejoin="round" stroke-miterlimit="2.5" textLength="64.50" lengthAdjust="spacingAndGlyphs" >CATEGORÍAS</text>
<text x="17.65" y="1102.55" font-family="Liberation Sans, sans-serif" font-size="12.65" font-weight="bold" fill="#585858" stroke="#585858" stroke-width="0.9" stroke-linejoin="round" stroke-miterlimit="2.5" textLength="52.90" lengthAdjust="spacingAndGlyphs" >ESTÁNDAR</text>
<text x="11.15" y="1122.55" font-family="Liberation Sans, sans-serif" font-size="12.65" font-weight="bold" fill="#585858" stroke="#585858" stroke-width="0.9" stroke-linejoin="round" stroke-miterlimit="2.5" textLength="63.60" lengthAdjust="spacingAndGlyphs" >INTENSIDAD</text>
<text x="23.95" y="1139.65" font-family="Liberation Sans, sans-serif" font-size="11.48" font-weight="bold" fill="#585858" stroke="#585858" stroke-width="0.7" stroke-linejoin="round" stroke-miterlimit="2.5" textLength="40.20" lengthAdjust="spacingAndGlyphs" >(mm/hr)</text>
<text x="94.72" y="1080.78" font-family="Liberation Sans, sans-serif" font-size="6.61" font-weight="bold" fill="#fff" stroke="#fff" stroke-width="0.45" stroke-linejoin="round" stroke-miterlimit="2.5" textLength="12.05" lengthAdjust="spacingAndGlyphs" >SIN</text>
<text x="84.72" y="1092.38" font-family="Liberation Sans, sans-serif" font-size="6.61" font-weight="bold" fill="#fff" stroke="#fff" stroke-width="0.45" stroke-linejoin="round" stroke-miterlimit="2.5" textLength="33.55" lengthAdjust="spacingAndGlyphs" >EVENTOS</text>
<text x="126.72" y="1092.38" font-family="Liberation Sans, sans-serif" font-size="6.61" font-weight="bold" fill="#d9ecfa" stroke="#d9ecfa" stroke-width="0.45" stroke-linejoin="round" stroke-miterlimit="2.5" textLength="21.55" lengthAdjust="spacingAndGlyphs" >DÉBIL</text>
<text x="154.22" y="1092.38" font-family="Liberation Sans, sans-serif" font-size="6.61" font-weight="bold" fill="#fff4a8" stroke="#fff4a8" stroke-width="0.45" stroke-linejoin="round" stroke-miterlimit="2.5" textLength="42.55" lengthAdjust="spacingAndGlyphs" >MODERADA</text>
<text x="204.22" y="1092.38" font-family="Liberation Sans, sans-serif" font-size="6.61" font-weight="bold" fill="#ffedb8" stroke="#ffedb8" stroke-width="0.45" stroke-linejoin="round" stroke-miterlimit="2.5" textLength="27.05" lengthAdjust="spacingAndGlyphs" >FUERTE</text>
<text x="243.22" y="1084.48" font-family="Liberation Sans, sans-serif" font-size="6.61" font-weight="bold" fill="#fff" stroke="#fff" stroke-width="0.45" stroke-linejoin="round" stroke-miterlimit="2.5" textLength="14.55" lengthAdjust="spacingAndGlyphs" >MUY</text>
<text x="236.72" y="1094.28" font-family="Liberation Sans, sans-serif" font-size="6.61" font-weight="bold" fill="#fff" stroke="#fff" stroke-width="0.45" stroke-linejoin="round" stroke-miterlimit="2.5" textLength="29.55" lengthAdjust="spacingAndGlyphs" >FUERTE</text>
<text x="273.23" y="1092.38" font-family="Liberation Sans, sans-serif" font-size="6.61" font-weight="bold" fill="#fff" stroke="#fff" stroke-width="0.45" stroke-linejoin="round" stroke-miterlimit="2.5" textLength="45.05" lengthAdjust="spacingAndGlyphs" >TORRENCIAL</text>
<text x="99.50" y="1134.00" font-family="Liberation Sans, sans-serif" font-size="17.30" font-weight="bold" fill="#1c1c1c" stroke="#1c1c1c" stroke-width="1.0" stroke-linejoin="round" stroke-miterlimit="2.5" textLength="7.00" lengthAdjust="spacingAndGlyphs" >0</text>
<text x="125.10" y="1134.00" font-family="Liberation Sans, sans-serif" font-size="17.30" font-weight="bold" fill="#1c1c1c" stroke="#1c1c1c" stroke-width="1.0" stroke-linejoin="round" stroke-miterlimit="2.5" textLength="22.70" lengthAdjust="spacingAndGlyphs" >0-2</text>
<text x="161.50" y="1134.00" font-family="Liberation Sans, sans-serif" font-size="17.30" font-weight="bold" fill="#1c1c1c" stroke="#1c1c1c" stroke-width="1.0" stroke-linejoin="round" stroke-miterlimit="2.5" textLength="28.00" lengthAdjust="spacingAndGlyphs" >2-15</text>
<text x="200.50" y="1134.00" font-family="Liberation Sans, sans-serif" font-size="17.30" font-weight="bold" fill="#1c1c1c" stroke="#1c1c1c" stroke-width="1.0" stroke-linejoin="round" stroke-miterlimit="2.5" textLength="33.00" lengthAdjust="spacingAndGlyphs" >15-30</text>
<text x="236.50" y="1134.00" font-family="Liberation Sans, sans-serif" font-size="17.30" font-weight="bold" fill="#1c1c1c" stroke="#1c1c1c" stroke-width="1.0" stroke-linejoin="round" stroke-miterlimit="2.5" textLength="33.00" lengthAdjust="spacingAndGlyphs" >30-45</text>
<text x="282.00" y="1134.00" font-family="Liberation Sans, sans-serif" font-size="17.30" font-weight="bold" fill="#1c1c1c" stroke="#1c1c1c" stroke-width="1.0" stroke-linejoin="round" stroke-miterlimit="2.5" textLength="26.00" lengthAdjust="spacingAndGlyphs" >&gt; 60</text>
<rect x="376.50" y="670.50" width="385.50" height="99.70" rx="6" fill="#3cb6b7" />
<text x="401.35" y="689.85" font-family="Liberation Sans, sans-serif" font-size="11.34" font-weight="bold" fill="#fff" stroke="#fff" stroke-width="0.7" stroke-linejoin="round" stroke-miterlimit="2.5" textLength="48.60" lengthAdjust="spacingAndGlyphs" >MAÑANA</text>
<text x="501.55" y="689.85" font-family="Liberation Sans, sans-serif" font-size="11.34" font-weight="bold" fill="#fff" stroke="#fff" stroke-width="0.7" stroke-linejoin="round" stroke-miterlimit="2.5" textLength="34.80" lengthAdjust="spacingAndGlyphs" >TARDE</text>
<text x="594.25" y="689.85" font-family="Liberation Sans, sans-serif" font-size="11.34" font-weight="bold" fill="#fff" stroke="#fff" stroke-width="0.7" stroke-linejoin="round" stroke-miterlimit="2.5" textLength="36.40" lengthAdjust="spacingAndGlyphs" >NOCHE</text>
<text x="668.65" y="689.85" font-family="Liberation Sans, sans-serif" font-size="11.34" font-weight="bold" fill="#fff" stroke="#fff" stroke-width="0.7" stroke-linejoin="round" stroke-miterlimit="2.5" textLength="80.00" lengthAdjust="spacingAndGlyphs" >TEMPERATURA</text>
<text x="384.85" y="760.05" font-family="Liberation Sans, sans-serif" font-size="10.17" font-weight="bold" fill="#eafafa" stroke="#eafafa" stroke-width="0.3" stroke-linejoin="round" stroke-miterlimit="2.5" textLength="70.80" lengthAdjust="spacingAndGlyphs" >POCO NUBOSO</text>
<text x="488.15" y="760.05" font-family="Liberation Sans, sans-serif" font-size="10.17" font-weight="bold" fill="#eafafa" stroke="#eafafa" stroke-width="0.3" stroke-linejoin="round" stroke-miterlimit="2.5" textLength="57.70" lengthAdjust="spacingAndGlyphs" >CHUBASCOS</text>
<text x="590.55" y="759.75" font-family="Liberation Sans, sans-serif" font-size="10.32" font-weight="bold" fill="#eafafa" stroke="#eafafa" stroke-width="0.3" stroke-linejoin="round" stroke-miterlimit="2.5" textLength="45.90" lengthAdjust="spacingAndGlyphs" >NUBOSO</text>
<text x="671.00" y="713.40" font-family="Liberation Sans, sans-serif" font-size="12.06" font-weight="bold" fill="#fff" textLength="67.00" lengthAdjust="spacingAndGlyphs" >T min:  8 °C</text>
<text x="667.00" y="749.50" font-family="Liberation Sans, sans-serif" font-size="12.06" font-weight="bold" fill="#fff" textLength="74.00" lengthAdjust="spacingAndGlyphs" >T max: 21 °C</text>
<polygon points="426.4,695.2 429.8,703.2 423.0,703.2" fill="#f3b37c" />
<polygon points="442.4,701.8 439.1,709.9 434.3,705.1" fill="#f3b37c" />
<polygon points="449.0,717.8 441.0,721.2 441.0,714.4" fill="#f3b37c" />
<polygon points="442.4,733.8 434.3,730.5 439.1,725.7" fill="#f3b37c" />
<polygon points="426.4,740.4 423.0,732.4 429.8,732.4" fill="#f3b37c" />
<polygon points="410.4,733.8 413.7,725.7 418.5,730.5" fill="#f3b37c" />
<polygon points="403.8,717.8 411.8,714.4 411.8,721.2" fill="#f3b37c" />
<polygon points="410.4,701.8 418.5,705.1 413.7,709.9" fill="#f3b37c" />
<circle cx="426.4" cy="717.8" r="11.6" fill="url(#gsun)" stroke="#57ae8e" stroke-width="1.1"/>
<g transform="translate(389.6 720.2) scale(0.2950 0.3267)" ><path d="M14 60 Q0 60 0 46 Q0 33 13 31 Q12 14 30 10 Q42 -4 58 6 Q66 0 76 6 Q88 10 86 26 Q100 28 100 44 Q100 60 84 60 Z" fill="url(#gcl)"/></g>
<g transform="translate(424.4 731.2) scale(0.2980 0.3133)" ><path d="M14 60 Q0 60 0 46 Q0 33 13 31 Q12 14 30 10 Q42 -4 58 6 Q66 0 76 6 Q88 10 86 26 Q100 28 100 44 Q100 60 84 60 Z" fill="url(#gcl)"/></g>
<polygon points="505.2,693.0 517.2,705.3 511.5,709.0" fill="url(#gray)" />
<polygon points="517.5,697.2 521.3,705.9 514.5,706.2" fill="url(#gray)" />
<polygon points="526.0,698.4 524.5,708.4 518.5,705.2" fill="url(#gray)" />
<polygon points="543.6,698.2 526.0,712.4 522.5,706.5" fill="url(#gray)" />
<polygon points="495.4,703.4 513.1,707.2 510.4,713.4" fill="url(#gray)" />
<polygon points="540.3,712.3 525.3,716.2 525.1,709.4" fill="url(#gray)" />
<polygon points="494.7,712.3 511.3,709.4 511.1,716.2" fill="url(#gray)" />
<polygon points="511.0,697.5 518.3,705.2 512.2,708.1" fill="url(#gray)" />
<polygon points="533.5,703.0 525.9,712.0 522.2,706.3" fill="url(#gray)" />
<circle cx="518.2" cy="713" r="9.4" fill="url(#gsun2)"/>
<g transform="translate(516.0 714.5) scale(0.2600 0.2500)" stroke="#8a8a8a" stroke-width="1.6"><path d="M14 60 Q0 60 0 46 Q0 33 13 31 Q12 14 30 10 Q42 -4 58 6 Q66 0 76 6 Q88 10 86 26 Q100 28 100 44 Q100 60 84 60 Z" fill="url(#gcl)"/></g>
<g transform="translate(489.5 712.4) scale(0.3000 0.2033)" stroke="#8a8a8a" stroke-width="1.6"><path d="M14 60 Q0 60 0 46 Q0 33 13 31 Q12 14 30 10 Q42 -4 58 6 Q66 0 76 6 Q88 10 86 26 Q100 28 100 44 Q100 60 84 60 Z" fill="url(#gcl)"/></g>
<g transform="translate(495.4 722.5) scale(0.5050 0.2300)" stroke="#8a8a8a" stroke-width="1.6"><path d="M14 60 Q0 60 0 46 Q0 33 13 31 Q12 14 30 10 Q42 -4 58 6 Q66 0 76 6 Q88 10 86 26 Q100 28 100 44 Q100 60 84 60 Z" fill="url(#gcl)"/></g>
<path d="M498.3 738.6 l-2.5 4.4" stroke="#79c6ea" stroke-width="1.3" stroke-linecap="round" fill="none"/>
<path d="M504.8 743.6 l-2.5 4.4" stroke="#79c6ea" stroke-width="1.3" stroke-linecap="round" fill="none"/>
<path d="M514 739 l-2.5 4.4" stroke="#79c6ea" stroke-width="1.3" stroke-linecap="round" fill="none"/>
<path d="M521.6 743.8 l-2.5 4.4" stroke="#79c6ea" stroke-width="1.3" stroke-linecap="round" fill="none"/>
<path d="M533.6 738.8 l-2.5 4.4" stroke="#79c6ea" stroke-width="1.3" stroke-linecap="round" fill="none"/>
<path d="M509.6 744.2 l-2.5 4.4" stroke="#79c6ea" stroke-width="1.3" stroke-linecap="round" fill="none"/>
<path d="M527.2 744.6 l-2.5 4.4" stroke="#79c6ea" stroke-width="1.3" stroke-linecap="round" fill="none"/>
<g transform="translate(610.6 708.0) scale(0.3200 0.4371)"><path d="M10 70 Q0 70 0 58 Q0 46 10 44 Q8 32 20 30 Q20 16 34 16 Q38 2 52 2 Q62 -2 70 8 Q82 8 84 22 Q94 24 92 38 Q100 42 100 56 Q100 70 88 70 Z" fill="#3f4a50"/></g>
<g transform="translate(586.5 699.5) scale(0.3980 0.3743)"><path d="M10 70 Q0 70 0 58 Q0 46 10 44 Q8 32 20 30 Q20 16 34 16 Q38 2 52 2 Q62 -2 70 8 Q82 8 84 22 Q94 24 92 38 Q100 42 100 56 Q100 70 88 70 Z" fill="#727b83"/></g>
<g transform="translate(575.4 713.2) scale(0.4440 0.4486)"><path d="M10 70 Q0 70 0 58 Q0 46 10 44 Q8 32 20 30 Q20 16 34 16 Q38 2 52 2 Q62 -2 70 8 Q82 8 84 22 Q94 24 92 38 Q100 42 100 56 Q100 70 88 70 Z" fill="#a0a9b1"/></g>
<rect x="376.50" y="805.30" width="385.30" height="77.70" rx="6" fill="#9a56a4" />
<text x="390.25" y="820.45" font-family="Liberation Sans, sans-serif" font-size="9.01" font-weight="bold" fill="#fff" stroke="#fff" stroke-width="0.5" stroke-linejoin="round" stroke-miterlimit="2.5" textLength="90.50" lengthAdjust="spacingAndGlyphs" >PRECIPITACIÓN DIARIA</text>
<text x="503.65" y="820.45" font-family="Liberation Sans, sans-serif" font-size="9.01" font-weight="bold" fill="#fff" stroke="#fff" stroke-width="0.5" stroke-linejoin="round" stroke-miterlimit="2.5" textLength="145.90" lengthAdjust="spacingAndGlyphs" >PRECIPITACIÓN ACUMULADA ACTUAL</text>
<text x="678.05" y="820.45" font-family="Liberation Sans, sans-serif" font-size="9.01" font-weight="bold" fill="#fff" stroke="#fff" stroke-width="0.5" stroke-linejoin="round" stroke-miterlimit="2.5" textLength="60.70" lengthAdjust="spacingAndGlyphs" >DÍAS DE LLUVIA</text>
<text x="387.00" y="849.50" font-family="Liberation Sans, sans-serif" font-size="27.03" font-weight="bold" fill="#fff" textLength="95.60" lengthAdjust="spacingAndGlyphs" >0,0 mm</text>
<text x="513.30" y="850.50" font-family="Liberation Sans, sans-serif" font-size="27.03" font-weight="bold" fill="#fff" textLength="110.45" lengthAdjust="spacingAndGlyphs" >90,2 mm</text>
<text x="693.40" y="850.60" font-family="Liberation Sans, sans-serif" font-size="28.49" font-weight="bold" fill="#fff" textLength="31.90" lengthAdjust="spacingAndGlyphs" >47</text>
<text x="399.11" y="865.49" font-family="Liberation Sans, sans-serif" font-size="4.77" font-weight="bold" fill="#f4e8f6" stroke="#f4e8f6" stroke-width="0.22" stroke-linejoin="round" stroke-miterlimit="2.5" textLength="52.28" lengthAdjust="spacingAndGlyphs" >*REFERENCIA: ESTACIÓN</text>
<text x="391.61" y="871.69" font-family="Liberation Sans, sans-serif" font-size="4.77" font-weight="bold" fill="#f4e8f6" stroke="#f4e8f6" stroke-width="0.22" stroke-linejoin="round" stroke-miterlimit="2.5" textLength="67.28" lengthAdjust="spacingAndGlyphs" >PLUVIOMÉTRICA EX-BANCO DEL</text>
<text x="416.61" y="877.89" font-family="Liberation Sans, sans-serif" font-size="4.77" font-weight="bold" fill="#f4e8f6" stroke="#f4e8f6" stroke-width="0.22" stroke-linejoin="round" stroke-miterlimit="2.5" textLength="16.78" lengthAdjust="spacingAndGlyphs" >ESTADO</text>
<text x="521.81" y="865.69" font-family="Liberation Sans, sans-serif" font-size="4.77" font-weight="bold" fill="#f4e8f6" stroke="#f4e8f6" stroke-width="0.22" stroke-linejoin="round" stroke-miterlimit="2.5" textLength="100.78" lengthAdjust="spacingAndGlyphs" >PRECIPITACIÓN DEL MES ACTUAL GESTION 2022</text>
<text x="559.40" y="873.40" font-family="Liberation Sans, sans-serif" font-size="6.69" font-weight="bold" fill="#f1e2f4" textLength="30.00" lengthAdjust="spacingAndGlyphs" >135,4 mm</text>
<text x="682.11" y="865.89" font-family="Liberation Sans, sans-serif" font-size="4.77" font-weight="bold" fill="#f4e8f6" stroke="#f4e8f6" stroke-width="0.22" stroke-linejoin="round" stroke-miterlimit="2.5" textLength="57.78" lengthAdjust="spacingAndGlyphs" >DESDE EL PERIODO ACTUAL</text>
<text x="698.61" y="872.09" font-family="Liberation Sans, sans-serif" font-size="4.77" font-weight="bold" fill="#f4e8f6" stroke="#f4e8f6" stroke-width="0.22" stroke-linejoin="round" stroke-miterlimit="2.5" textLength="25.28" lengthAdjust="spacingAndGlyphs" >DE LLUVIAS</text>
<rect x="321.7" y="888" width="441" height="257.8" rx="9" fill="#fdfefe" stroke="#bbe6ec" stroke-width="2.2"/>
<text x="329.00" y="909.50" font-family="Liberation Sans, sans-serif" font-size="15.99" font-weight="bold" fill="#21b4c8" stroke="#21b4c8" stroke-width="1.0" stroke-linejoin="round" stroke-miterlimit="2.5" textLength="424.70" lengthAdjust="spacingAndGlyphs" >REGISTRO DE NIVELES EN RÍOS DEL MUNICIPIO</text>
<rect x="327.60" y="917.40" width="21.80" height="108.50" rx="0" fill="#8d63ea" />
<rect x="353.30" y="915.30" width="41.10" height="37.70" rx="0" fill="#c21f2b" />
<rect x="353.30" y="952.80" width="41.10" height="38.20" rx="0" fill="#eb5420" />
<rect x="353.30" y="990.80" width="41.10" height="36.60" rx="0" fill="#efe33c" />
<rect x="353.30" y="1014.50" width="41.10" height="2.40" rx="0" fill="#111" />
<text transform="translate(342.80 1015.00) rotate(-90)" font-family="Liberation Sans, sans-serif" font-size="13.6" font-weight="bold" fill="#fff" stroke="#fff" stroke-width="0.15" textLength="87.00" lengthAdjust="spacingAndGlyphs">Choqueyapu</text>
<rect x="399.50" y="917.40" width="20.90" height="108.50" rx="0" fill="#8d63ea" />
<rect x="425.80" y="915.30" width="40.40" height="37.70" rx="0" fill="#c21f2b" />
<rect x="425.80" y="952.80" width="40.40" height="38.20" rx="0" fill="#eb5420" />
<rect x="425.80" y="990.80" width="40.40" height="36.60" rx="0" fill="#efe33c" />
<rect x="425.80" y="1014.50" width="40.40" height="2.40" rx="0" fill="#111" />
<text transform="translate(414.25 1017.00) rotate(-90)" font-family="Liberation Sans, sans-serif" font-size="13.6" font-weight="bold" fill="#fff" stroke="#fff" stroke-width="0.15" textLength="92.00" lengthAdjust="spacingAndGlyphs">Orkhojahuira</text>
<rect x="473.70" y="917.40" width="21.00" height="108.50" rx="0" fill="#8d63ea" />
<rect x="498.60" y="915.30" width="40.40" height="37.70" rx="0" fill="#c21f2b" />
<rect x="498.60" y="952.80" width="40.40" height="38.20" rx="0" fill="#eb5420" />
<rect x="498.60" y="990.80" width="40.40" height="36.60" rx="0" fill="#efe33c" />
<rect x="498.60" y="1006.70" width="40.40" height="2.40" rx="0" fill="#111" />
<text transform="translate(488.50 991.40) rotate(-90)" font-family="Liberation Sans, sans-serif" font-size="13.6" font-weight="bold" fill="#fff" stroke="#fff" stroke-width="0.15" textLength="40.40" lengthAdjust="spacingAndGlyphs">Irpavi</text>
<rect x="544.00" y="917.40" width="21.60" height="108.50" rx="0" fill="#8d63ea" />
<rect x="570.90" y="915.30" width="40.50" height="37.70" rx="0" fill="#c21f2b" />
<rect x="570.90" y="952.80" width="40.50" height="38.20" rx="0" fill="#eb5420" />
<rect x="570.90" y="990.80" width="40.50" height="36.60" rx="0" fill="#efe33c" />
<rect x="570.90" y="1019.00" width="40.50" height="2.40" rx="0" fill="#111" />
<text transform="translate(559.10 1007.30) rotate(-90)" font-family="Liberation Sans, sans-serif" font-size="13.6" font-weight="bold" fill="#fff" stroke="#fff" stroke-width="0.15" textLength="68.90" lengthAdjust="spacingAndGlyphs">Achumani</text>
<rect x="617.40" y="917.40" width="20.30" height="108.50" rx="0" fill="#8d63ea" />
<rect x="642.80" y="915.30" width="40.50" height="37.70" rx="0" fill="#c21f2b" />
<rect x="642.80" y="952.80" width="40.50" height="38.20" rx="0" fill="#eb5420" />
<rect x="642.80" y="990.80" width="40.50" height="36.60" rx="0" fill="#efe33c" />
<rect x="642.80" y="1013.60" width="40.50" height="2.40" rx="0" fill="#111" />
<text transform="translate(631.85 1020.80) rotate(-90)" font-family="Liberation Sans, sans-serif" font-size="13.6" font-weight="bold" fill="#fff" stroke="#fff" stroke-width="0.15" textLength="99.80" lengthAdjust="spacingAndGlyphs">Huayñajahuira</text>
<rect x="690.00" y="917.40" width="21.00" height="108.50" rx="0" fill="#8d63ea" />
<rect x="715.30" y="915.30" width="39.70" height="37.70" rx="0" fill="#c21f2b" />
<rect x="715.30" y="952.80" width="39.70" height="38.20" rx="0" fill="#eb5420" />
<rect x="715.30" y="990.80" width="39.70" height="36.60" rx="0" fill="#efe33c" />
<rect x="715.30" y="1011.50" width="39.70" height="2.40" rx="0" fill="#111" />
<text transform="translate(704.80 1007.00) rotate(-90)" font-family="Liberation Sans, sans-serif" font-size="13.6" font-weight="bold" fill="#fff" stroke="#fff" stroke-width="0.15" textLength="71.60" lengthAdjust="spacingAndGlyphs">Río La Paz</text>
<path d="M328.5 1053.4 H746.6 Q750.6 1053.4 750.6 1057.4 V1064.3 Q750.6 1068.3 746.6 1068.3 H328.5 Z" fill="#fff" stroke="#f3ea9a" stroke-width="1.2"/>
<path d="M328.5 1053.4 L446.2 1053.4 L446.2 1068.3 L328.5 1068.3 Z" fill="#efe33c"/>
<text x="339.95" y="1065.65" font-family="Liberation Sans, sans-serif" font-size="14.10" font-weight="bold" fill="#47473f" stroke="#47473f" stroke-width="0.7" stroke-linejoin="round" stroke-miterlimit="2.5" textLength="84.90" lengthAdjust="spacingAndGlyphs" >Nivel amarillo</text>
<text x="452.2" y="1065.2" font-family="Liberation Sans, sans-serif" font-size="11.4" fill="#4a4a4a" textLength="282.0" lengthAdjust="spacingAndGlyphs"><tspan font-weight="bold">Niveles normales,</tspan> sin incrementos significativos.</text>
<path d="M328.5 1072.8 H746.6 Q750.6 1072.8 750.6 1076.8 V1085.3 Q750.6 1089.3 746.6 1089.3 H328.5 Z" fill="#fff" stroke="#f4a78a" stroke-width="1.2"/>
<path d="M328.5 1072.8 L446.2 1072.8 L446.2 1089.3 L328.5 1089.3 Z" fill="url(#gor)"/>
<text x="336.35" y="1085.85" font-family="Liberation Sans, sans-serif" font-size="14.10" font-weight="bold" fill="#fff" stroke="#fff" stroke-width="0.7" stroke-linejoin="round" stroke-miterlimit="2.5" textLength="81.60" lengthAdjust="spacingAndGlyphs" >Nivel naranja</text>
<text x="452.2" y="1085.4" font-family="Liberation Sans, sans-serif" font-size="11.4" fill="#4a4a4a" textLength="283.5" lengthAdjust="spacingAndGlyphs"><tspan font-weight="bold">Incrementos significativos</tspan> y posibles desbordes.</text>
<path d="M328.5 1093.5 H746.6 Q750.6 1093.5 750.6 1097.5 V1107.5 Q750.6 1111.5 746.6 1111.5 H328.5 Z" fill="#fff" stroke="#dd7c82" stroke-width="1.2"/>
<path d="M328.5 1093.5 L404.8 1093.5 L404.8 1111.5 L328.5 1111.5 Z" fill="#c21f2b"/>
<text x="336.35" y="1107.05" font-family="Liberation Sans, sans-serif" font-size="14.10" font-weight="bold" fill="#fff" stroke="#fff" stroke-width="0.7" stroke-linejoin="round" stroke-miterlimit="2.5" textLength="59.20" lengthAdjust="spacingAndGlyphs" >Nivel rojo</text>
<text x="410" y="1106.6000000000001" font-family="Liberation Sans, sans-serif" font-size="11.4" fill="#4a4a4a" textLength="336.0" lengthAdjust="spacingAndGlyphs"><tspan font-weight="bold">Niveles extraordinarios</tspan> con desbordes y ondas pulsantes.</text>
<path d="M328.5 1115.4 H746.6 Q750.6 1115.4 750.6 1119.4 V1130.2 Q750.6 1134.2 746.6 1134.2 H328.5 Z" fill="#fff" stroke="#555" stroke-width="1.2"/>
<text x="410" y="1128.8" font-family="Liberation Sans, sans-serif" font-size="11.4" fill="#4a4a4a" textLength="318.0" lengthAdjust="spacingAndGlyphs"><tspan font-weight="bold">Niveles de agua</tspan> de los ríos expresados en centímetros.</text>
<path d="M404.8 1115.4 L404.8 1134.2" stroke="#555" stroke-width="1"/>
<path d="M335.4 1125 L394.4 1125" stroke="#222" stroke-width="1.1"/>
<rect x="0.00" y="1149.00" width="768.00" height="63.00" rx="0" fill="#1acac4" />
<text x="27.00" y="1177.50" font-family="Liberation Sans, sans-serif" font-size="16.40" font-weight="normal" fill="#fff" textLength="718.00" lengthAdjust="spacing" >* Los datos consignados en el presente reporte, corresponden al periodo comprendido entre las</text>
<text x="27.00" y="1196.00" font-family="Liberation Sans, sans-serif" font-size="16.40" font-weight="normal" fill="#fff" textLength="318.00" lengthAdjust="spacing" >17:00 del 26/02/23 y las 05:00 del 27/02/23</text>
<rect x="0.00" y="1212.00" width="768.00" height="147.00" rx="0" fill="url(#gpt)" />
<g fill="none" stroke="#f3eaf6" stroke-linejoin="round" stroke-linecap="round"><path d="M47.2 1248.5 Q53 1250.5 60.3 1247.2 Q67.5 1250.5 73.4 1248.5 L73.4 1266 Q73.4 1276 60.3 1281 Q47.2 1276 47.2 1266 Z" stroke-width="2.4" fill="#fff" fill-opacity="0.22"/><path d="M51.2 1253 L69.4 1253 L69.4 1266 Q69.4 1273 60.3 1276.6 Q51.2 1273 51.2 1266 Z" stroke-width="0.8"/><circle cx="60.3" cy="1256.6" r="1.7" stroke-width="0.9"/><path d="M52.5 1262.4 L68 1262.4" stroke-width="1.2"/><path d="M55 1260.6 Q60.3 1257.6 65.6 1260.6" stroke-width="0.9"/><path d="M56.5 1266 q2 -1.6 4 0 q2 1.6 -0.5 3 q-2.2 1.2 0 2.6 q2 1 4 -0.6" stroke-width="1.3"/><path d="M53.5 1266.5 L56 1268.5 M64.5 1265.5 L67 1267.5" stroke-width="0.9"/><path d="M57.2 1247 L57.6 1241.5 Q57.6 1238.6 60.3 1238.6 Q63 1238.6 63 1241.5 L63.4 1247" stroke-width="1.6"/><path d="M58 1238.6 L58.6 1235.4 L60.3 1237 L62 1235.4 L62.6 1238.6" stroke-width="1"/><path d="M54 1246.6 Q57 1244 60.3 1245.4 Q63.6 1244 66.6 1246.6" stroke-width="1"/><path d="M45.6 1251.5 Q39.8 1258 41.2 1267 Q42.6 1275 48.6 1279.4" stroke-width="3" stroke-dasharray="3.2 0.9" stroke-linecap="butt"/><path d="M76 1250.5 Q81.6 1258 80 1267 Q78.4 1275 72.4 1279.4" stroke-width="3.6" stroke-dasharray="2.8 1.2" stroke-linecap="butt"/><path d="M48.5 1283.6 Q54 1281.2 60.3 1283.4 Q66.6 1285.6 72.6 1282.4" stroke-width="2.4" stroke-dasharray="4 1.2"/></g>
<text x="16.40" y="1308.60" font-family="Liberation Serif, serif" font-size="25.90" font-weight="normal" fill="#f6eef8" textLength="88.80" lengthAdjust="spacingAndGlyphs" >GAMLP</text>
<text x="20.00" y="1313.60" font-family="Liberation Serif, serif" font-size="3.40" font-weight="normal" fill="#fff" opacity="0.75" textLength="80.00" lengthAdjust="spacingAndGlyphs" >GOBIERNO AUTÓNOMO MUNICIPAL DE LA PAZ</text>
<path d="M15.8 1319.2 Q40 1317 61 1319.4 Q84 1321.6 106.7 1319" fill="none" stroke="#b3212e" stroke-width="1.7"/>
<path d="M34 1320.2 Q48 1319.4 60 1321" fill="none" stroke="#2f8a3e" stroke-width="1.3"/>
<path d="M57 1318.6 Q62 1318 69 1319.6" fill="none" stroke="#d9a320" stroke-width="1.1"/>
<polygon points="135.5,1267.8 169.2,1235.0 182.9,1246.9 192.9,1238.7 200.2,1244.1 212.0,1236.0 228.4,1252.3 235.7,1244.1 257.6,1267.0 243.0,1281.5 246.7,1285.0 235.7,1294.3 232.0,1305.0 226.0,1305.0 226.0,1311.0 184.7,1310.7 164.6,1298.0 161.0,1288.8 148.2,1277.9" fill="#ececf1" />
<polygon points="169.2,1235.0 182.9,1246.9 170.0,1262.0 150.0,1258.0" fill="#fbfbfd" />
<polygon points="192.9,1238.7 200.2,1244.1 196.0,1262.0 182.9,1246.9" fill="#fdfdfe" />
<polygon points="212.0,1236.0 228.4,1252.3 214.0,1262.0 200.2,1244.1" fill="#ffffff" />
<polygon points="235.7,1244.1 257.6,1267.0 238.0,1266.0 228.4,1252.3" fill="#fafafc" />
<polygon points="135.5,1267.8 150.0,1258.0 170.0,1262.0 160.0,1276.0 148.2,1277.9" fill="#d6d6de" />
<polygon points="170.0,1262.0 196.0,1262.0 190.0,1290.0 161.0,1288.8 160.0,1276.0" fill="#cdcdd6" />
<polygon points="214.0,1262.0 238.0,1266.0 243.0,1281.5 225.0,1292.0 205.0,1290.0" fill="#d2d2da" />
<polygon points="190.0,1290.0 205.0,1290.0 225.0,1292.0 232.0,1305.0 184.7,1310.7 170.0,1301.0" fill="#e3e3e9" />
<rect x="181.00" y="1304.00" width="5.00" height="8.50" rx="0" fill="#73599d" />
<rect x="187.00" y="1299.00" width="6.00" height="13.50" rx="0" fill="#73599d" />
<rect x="194.00" y="1302.00" width="5.00" height="10.50" rx="0" fill="#73599d" />
<rect x="200.00" y="1295.00" width="6.00" height="17.50" rx="0" fill="#73599d" />
<rect x="207.00" y="1299.00" width="5.00" height="13.50" rx="0" fill="#73599d" />
<rect x="213.00" y="1293.00" width="6.00" height="19.50" rx="0" fill="#73599d" />
<rect x="220.00" y="1298.00" width="5.00" height="14.50" rx="0" fill="#73599d" />
<rect x="226.00" y="1303.00" width="6.00" height="9.50" rx="0" fill="#73599d" />
<rect x="178.00" y="1309.00" width="58.00" height="3.80" rx="0" fill="#73599d" />
<text x="156.25" y="1274.35" font-family="Liberation Sans, sans-serif" font-size="24.56" font-weight="bold" fill="#6a4b95" stroke="#6a4b95" stroke-width="1.5" stroke-linejoin="miter" stroke-miterlimit="2.5" textLength="79.60" lengthAdjust="spacingAndGlyphs" >La Paz</text>
<rect x="154.60" y="1277.50" width="82.90" height="6.80" rx="0" fill="#8a8799" />
<text x="157.00" y="1282.90" font-family="Liberation Sans, sans-serif" font-size="7.20" font-weight="bold" fill="#ecebf1" textLength="78.50" lengthAdjust="spacingAndGlyphs" >ciudadenmovimiento</text>
<text x="135.50" y="1323.30" font-family="Liberation Sans, sans-serif" font-size="7.41" font-weight="bold" fill="#fff" stroke="#fff" stroke-width="0.2" stroke-linejoin="round" stroke-miterlimit="2.5" textLength="122.80" lengthAdjust="spacingAndGlyphs" >GOBIERNO AUTÓNOMO MUNICIPAL</text>
<path d="M273.4 1237 L273.4 1320.5" stroke="#cdbfe0" stroke-width="0.9"/>
<text x="285.43" y="1267.58" font-family="Liberation Sans, sans-serif" font-size="13.59" font-weight="normal" fill="#fff" stroke="#fff" stroke-width="0.25" stroke-linejoin="round" stroke-miterlimit="2.5" textLength="132.65" lengthAdjust="spacingAndGlyphs" >Secretaría Municipal de</text>
<text x="299.65" y="1281.55" font-family="Liberation Sans, sans-serif" font-size="14.39" font-weight="bold" fill="#fff" stroke="#fff" stroke-width="0.5" stroke-linejoin="round" stroke-miterlimit="2.5" textLength="105.00" lengthAdjust="spacingAndGlyphs" >Gestión Integral</text>
<text x="317.25" y="1296.35" font-family="Liberation Sans, sans-serif" font-size="14.39" font-weight="bold" fill="#fff" stroke="#fff" stroke-width="0.5" stroke-linejoin="round" stroke-miterlimit="2.5" textLength="69.80" lengthAdjust="spacingAndGlyphs" >de Riesgos</text>
<text x="513.15" y="1238.65" font-family="Liberation Sans, sans-serif" font-size="14.10" font-weight="bold" fill="#fff" stroke="#fff" stroke-width="0.7" stroke-linejoin="round" stroke-miterlimit="2.5" textLength="64.70" lengthAdjust="spacingAndGlyphs" >En caso de</text>
<rect x="579.60" y="1225.50" width="77.40" height="17.70" rx="3" fill="#fff" />
<text x="582.35" y="1238.65" font-family="Liberation Sans, sans-serif" font-size="14.10" font-weight="bold" fill="#7e50de" stroke="#7e50de" stroke-width="0.7" stroke-linejoin="round" stroke-miterlimit="2.5" textLength="72.30" lengthAdjust="spacingAndGlyphs" >emergencia</text>
<text x="658.95" y="1238.65" font-family="Liberation Sans, sans-serif" font-size="14.10" font-weight="bold" fill="#fff" stroke="#fff" stroke-width="0.7" stroke-linejoin="round" stroke-miterlimit="2.5" textLength="57.40" lengthAdjust="spacingAndGlyphs" >llamar al:</text>
<polygon points="547.2,1250.0 561.6,1250.0 561.6,1315.0 574.5,1315.0 574.5,1335.2 524.3,1335.2 524.3,1315.0 540.0,1315.0 540.0,1271.5 524.3,1278.7 524.3,1264.3" fill="#fff" />
<polygon points="604.5,1250.0 618.9,1250.0 618.9,1315.0 631.8,1315.0 631.8,1335.2 581.6,1335.2 581.6,1315.0 597.3,1315.0 597.3,1271.5 581.6,1278.7 581.6,1264.3" fill="#fff" />
<path fill-rule="evenodd" fill="#fff" d="M679 1250 L706.2 1250 L706.2 1301.6 L715.7 1301.6 L715.7 1320.2 L706.2 1320.2 L706.2 1335.2 L682.7 1335.2 L682.7 1320.2 L638.9 1320.2 L638.9 1301.6 Z M682.7 1274.4 L682.7 1301.6 L664.7 1301.6 Z"/>
</svg>
</body>
</html>
